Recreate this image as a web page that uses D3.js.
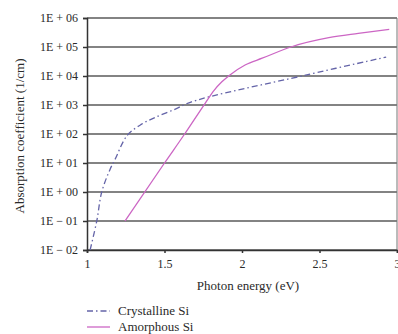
<!DOCTYPE html>
<html>
<head>
<meta charset="utf-8">
<script src="https://cdn.jsdelivr.net/npm/d3@7"></script>
<style>
  body { margin: 0; background: #fff; }
  text { font-family: "Liberation Serif", "DejaVu Serif", serif; fill: #2a2a2a; }
</style>
</head>
<body>
<div id="canvas"></div>
<script>
// photon energy (eV) and absorption coefficient (1/cm)
const crystE = [1.02, 1.063, 1.095, 1.148, 1.18, 1.26, 1.353, 1.44, 1.57, 1.675, 2.41, 2.93];
const crystA = [0.01, 0.1, 1, 5.9, 13, 90, 219, 372, 724, 1290, 10700, 45000];

const amorE = [1.245, 1.5, 1.63, 1.76, 1.82, 1.87, 1.92, 2.02, 2.13, 2.32, 2.56, 2.75, 2.95];
const amorA = [0.1, 10, 100, 1100, 3200, 6300, 10700, 24000, 41000, 102000, 209000, 295000, 407000];

const yTicks = [1e-2, 1e-1, 1e0, 1e1, 1e2, 1e3, 1e4, 1e5, 1e6];
const xTicks = [1, 1.5, 2, 2.5, 3];

const seriesNames = ["Crystalline Si", "Amorphous Si"];

const width = 398, height = 334;
const plot = {left: 87, right: 397, top: 18, bottom: 250};

const svg = d3.select("#canvas")
    .append("svg")
    .attr("width", width)
    .attr("height", height);

const x = d3.scaleLinear().domain([1, 3]).range([plot.left, plot.right]);
const y = d3.scaleLog().domain([1e-2, 1e6]).range([plot.bottom, plot.top]);

function expLabel(v) {
    const e = Math.round(Math.log10(v));
    const s = e < 0 ? " \u2212 " : " + ";
    return "1E" + s + String(Math.abs(e)).padStart(2, "0");
}

// horizontal grid
svg.append("g")
    .selectAll("line")
    .data(yTicks)
    .enter()
    .append("line")
    .attr("x1", plot.left)
    .attr("x2", plot.right)
    .attr("y1", d => y(d))
    .attr("y2", d => y(d))
    .style("stroke", "#5a5a5a")
    .style("stroke-width", 1.4);

// right border
svg.append("line")
    .attr("x1", plot.right).attr("x2", plot.right)
    .attr("y1", plot.top).attr("y2", plot.bottom)
    .style("stroke", "#777")
    .style("stroke-width", 1);

// y axis
const yAxis = svg.append("g")
    .attr("transform", "translate(" + plot.left + ",0)")
    .call(d3.axisLeft(y).tickValues(yTicks).tickFormat(expLabel).tickSize(4).tickPadding(5));
yAxis.select(".domain").style("stroke", "#333").style("stroke-width", 1.5);
yAxis.selectAll(".tick line").style("stroke", "#333").style("stroke-width", 1.5);
yAxis.selectAll("text").style("font-size", "12px").style("fill", "#2a2a2a");

// x axis
const xAxis = svg.append("g")
    .attr("transform", "translate(0," + plot.bottom + ")")
    .call(d3.axisBottom(x).tickValues(xTicks).tickFormat(d3.format("")).tickSizeOuter(0).tickSize(3).tickPadding(6));
xAxis.select(".domain").style("stroke", "#333").style("stroke-width", 1.5);
xAxis.selectAll(".tick line").style("stroke", "#333").style("stroke-width", 1.5);
xAxis.selectAll("text").style("font-size", "12px").style("fill", "#2a2a2a");

// axis titles
svg.append("text")
    .attr("text-anchor", "middle")
    .attr("transform", "rotate(-90)")
    .attr("x", -136)
    .attr("y", 24)
    .style("font-size", "13px")
    .text("Absorption coefficient (1/cm)");

svg.append("text")
    .attr("text-anchor", "middle")
    .attr("x", 248)
    .attr("y", 290)
    .style("font-size", "13px")
    .text("Photon energy (eV)");

const crystLine = d3.line()
    .x(d => x(d[0]))
    .y(d => y(d[1]))
    .curve(d3.curveCatmullRom.alpha(0.5));

const amorLine = d3.line()
    .x(d => x(d[0]))
    .y(d => y(d[1]))
    .curve(d3.curveMonotoneX);

const crystColor = "#6464a8", amorColor = "#cc66c4";

svg.append("path")
    .datum(d3.zip(crystE, crystA))
    .attr("d", crystLine)
    .style("fill", "none")
    .style("stroke", crystColor)
    .style("stroke-width", 1.3)
    .style("stroke-dasharray", "6,3,1.5,3");

svg.append("path")
    .datum(d3.zip(amorE, amorA))
    .attr("d", amorLine)
    .style("fill", "none")
    .style("stroke", amorColor)
    .style("stroke-width", 1.3);

// legend
const legend = svg.append("g");
const legendStyles = [
    {color: crystColor, dash: "6,3,1.5,3"},
    {color: amorColor, dash: null}
];
seriesNames.forEach((name, i) => {
    const ly = 311 + i * 16;
    legend.append("line")
        .attr("x1", 87).attr("x2", 110)
        .attr("y1", ly).attr("y2", ly)
        .style("stroke", legendStyles[i].color)
        .style("stroke-width", 1.3)
        .style("stroke-dasharray", legendStyles[i].dash);
    legend.append("text")
        .attr("x", 118)
        .attr("y", ly + 4)
        .style("font-size", "13px")
        .text(name);
});
</script>
</body>
</html>
